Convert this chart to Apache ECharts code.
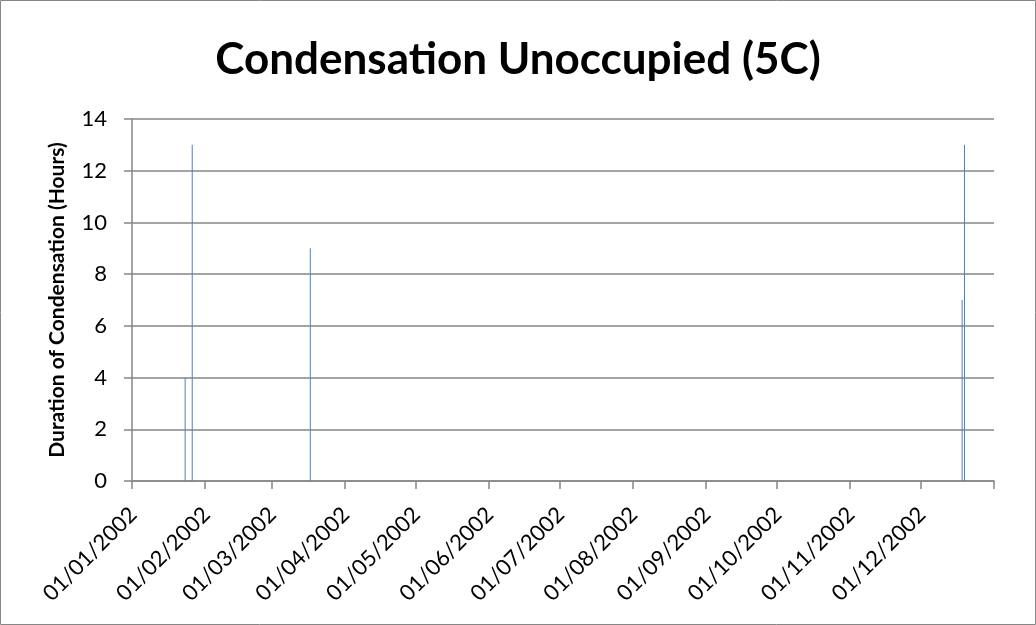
<!DOCTYPE html>
<html>
<head>
<meta charset="utf-8">
<script src="https://cdn.jsdelivr.net/npm/echarts@6/dist/echarts.min.js"></script>
<style>
  html, body { margin: 0; padding: 0; background: #fff; }
  #chart { width: 1036px; height: 625px; }
</style>
</head>
<body>
<div id="chart"></div>
<script>
// events: date -> hours of condensation
var eventDates = ['2002-01-23', '2002-01-26', '2002-03-17', '2002-12-18', '2002-12-19'];
var eventHours = [4, 13, 9, 7, 13];
var yTicks = [0, 2, 4, 6, 8, 10, 12, 14];

// one category per day of 2002
var days = [];
var d = new Date(Date.UTC(2002, 0, 1));
while (d.getUTCFullYear() === 2002) {
  days.push(d.toISOString().slice(0, 10));
  d.setUTCDate(d.getUTCDate() + 1);
}

var seriesData = eventDates.map(function (dt, i) { return [dt, eventHours[i]]; });

function isMonthStart(index, value) {
  return value.slice(8, 10) === '01';
}

var myChart = echarts.init(document.getElementById('chart'));

var option = {
  animation: false,
  title: {
    text: 'Condensation Unoccupied (5C)',
    left: 'center',
    top: 33,
    textStyle: { fontFamily: 'Lato', fontWeight: 'bold', fontSize: 44, color: '#000' }
  },
  graphic: [{
    type: 'rect',
    shape: { x: 0.5, y: 0.5, width: 1035, height: 624 },
    style: { fill: 'none', stroke: '#868686', lineWidth: 1 },
    silent: true
  }],
  grid: { left: 132, right: 42, top: 119, bottom: 144 },
  xAxis: {
    type: 'category',
    data: days,
    boundaryGap: true,
    axisLine: { lineStyle: { color: '#868686', width: 1.5 } },
    axisTick: { show: true, interval: isMonthStart, length: 8, lineStyle: { color: '#868686', width: 1.5 } },
    axisLabel: {
      interval: isMonthStart,
      rotate: 45,
      margin: 30,
      fontFamily: 'Lato',
      fontSize: 22,
      color: '#000',
      formatter: function (v) {
        return v.slice(8, 10) + '/' + v.slice(5, 7) + '/' + v.slice(0, 4);
      }
    },
    splitLine: { show: false }
  },
  yAxis: {
    type: 'value',
    min: yTicks[0],
    max: yTicks[yTicks.length - 1],
    interval: 2,
    name: 'Duration of Condensation (Hours)',
    nameLocation: 'middle',
    nameGap: 64,
    nameTextStyle: { fontFamily: 'Lato', fontWeight: 'bold', fontSize: 21, color: '#000' },
    axisLine: { show: true, lineStyle: { color: '#868686', width: 1.5 } },
    axisTick: { show: true, length: 8, lineStyle: { color: '#868686', width: 1.5 } },
    axisLabel: { fontFamily: 'Lato', fontSize: 22, color: '#000', margin: 25 },
    splitLine: { lineStyle: { color: '#868686', width: 1.5 } }
  },
  series: [{
    name: 'Condensation',
    type: 'bar',
    barWidth: 1,
    itemStyle: { color: '#4F81BD' },
    data: seriesData
  }]
};

myChart.setOption(option);
</script>
</body>
</html>
